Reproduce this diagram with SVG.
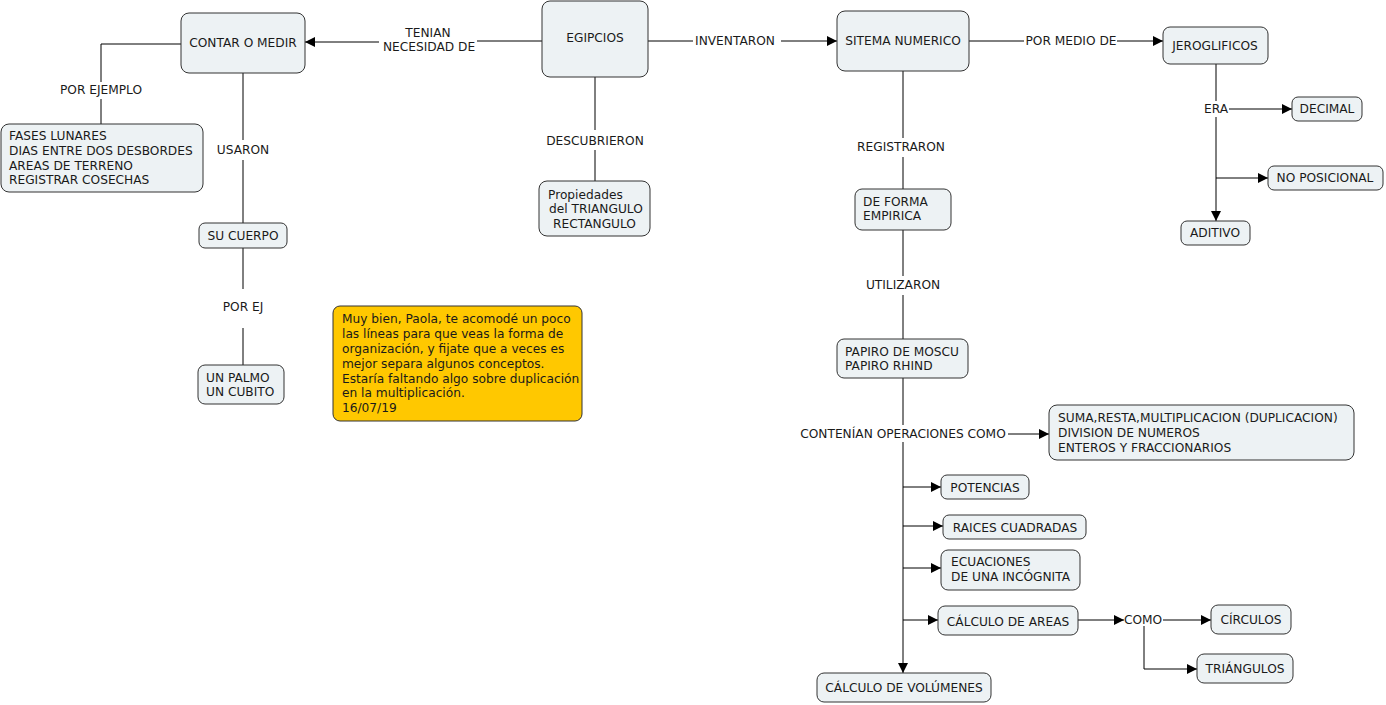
<svg xmlns="http://www.w3.org/2000/svg" width="1386" height="705" viewBox="0 0 1386 705">
<style>
text{font-family:"DejaVu Sans",Verdana,sans-serif;font-size:12.2px;fill:#1a1a1a}
.n{fill:#EDF2F4;stroke:#333;stroke-width:1}
.note{fill:#FFC800;stroke:#333;stroke-width:1}
.c{text-anchor:middle}
.l{fill:none;stroke:#000;stroke-width:1}
.a{marker-end:url(#ar)}
</style>
<defs>
<marker id="ar" markerWidth="10" markerHeight="10" refX="10" refY="5" orient="auto" markerUnits="userSpaceOnUse"><path d="M0,0 L10,5 L0,10 z" fill="#000"/></marker>
</defs>
<rect width="1386" height="705" fill="#fff"/>
<g id="connectors">
<path class="l" d="M542,41 H477"/>
<path class="l a" d="M379,42 H305"/>
<text class="c" x="428" y="37">TENIAN</text>
<text class="c" x="429" y="51">NECESIDAD DE</text>
<path class="l" d="M648,41 H693"/>
<path class="l a" d="M781,41 H837"/>
<text class="c" x="735" y="45">INVENTARON</text>
<path class="l" d="M969,41 H1024"/>
<path class="l a" d="M1117,41 H1163"/>
<text class="c" x="1071" y="45">POR MEDIO DE</text>
<path class="l" d="M1216,64 V101"/>
<text class="c" x="1216" y="113">ERA</text>
<path class="l a" d="M1229,109 H1292"/>
<path class="l a" d="M1216,117 V221"/>
<path class="l a" d="M1216,178 H1268"/>
<path class="l" d="M181,44 H101 V82"/>
<text class="c" x="101" y="94">POR EJEMPLO</text>
<path class="l" d="M101,99 V124"/>
<path class="l" d="M243,73 V140"/>
<text class="c" x="243" y="154">USARON</text>
<path class="l" d="M243,160 V223"/>
<path class="l" d="M243,248 V289"/>
<text class="c" x="243" y="311">POR EJ</text>
<path class="l" d="M243,328 V365"/>
<path class="l" d="M595,77 V130"/>
<text class="c" x="595" y="145">DESCUBRIERON</text>
<path class="l" d="M595,150 V181"/>
<path class="l" d="M903,71 V138"/>
<text class="c" x="901" y="151">REGISTRARON</text>
<path class="l" d="M903,157 V189"/>
<path class="l" d="M903,230 V276"/>
<text class="c" x="903" y="289">UTILIZARON</text>
<path class="l" d="M903,295 V339"/>
<path class="l" d="M903,378 V425"/>
<text class="c" x="903" y="438">CONTENÍAN OPERACIONES COMO</text>
<path class="l a" d="M1008,434 H1049"/>
<path class="l a" d="M903,442 V673"/>
<path class="l a" d="M903,487 H941"/>
<path class="l a" d="M903,526 H943"/>
<path class="l a" d="M903,568 H941"/>
<path class="l a" d="M903,620 H938"/>
<path class="l a" d="M1078,620 H1124"/>
<text class="c" x="1143" y="624">COMO</text>
<path class="l a" d="M1163,620 H1211"/>
<path class="l a" d="M1144,626 V669 H1197"/>
</g>
<g id="egipcios"><rect class="n" x="542" y="1" width="106" height="76" rx="8"/><text class="c" x="595" y="42">EGIPCIOS</text></g>
<g id="contar"><rect class="n" x="181" y="13" width="124" height="60" rx="8"/><text class="c" x="243" y="47">CONTAR O MEDIR</text></g>
<g id="sitema"><rect class="n" x="837" y="11" width="132" height="60" rx="8"/><text class="c" x="903" y="45">SITEMA NUMERICO</text></g>
<g id="jeroglificos"><rect class="n" x="1163" y="27" width="105" height="37" rx="7"/><text class="c" x="1215" y="50">JEROGLIFICOS</text></g>
<g id="decimal"><rect class="n" x="1292" y="97" width="70" height="24" rx="6"/><text class="c" x="1327" y="113">DECIMAL</text></g>
<g id="noposicional"><rect class="n" x="1268" y="166" width="115" height="24" rx="6"/><text class="c" x="1325" y="182">NO POSICIONAL</text></g>
<g id="aditivo"><rect class="n" x="1181" y="221" width="69" height="24" rx="6"/><text class="c" x="1215" y="237">ADITIVO</text></g>
<g id="fases"><rect class="n" x="1" y="124" width="202" height="68" rx="8"/>
<text x="9" y="140">FASES LUNARES</text><text x="9" y="155">DIAS ENTRE DOS DESBORDES</text><text x="9" y="170">AREAS DE TERRENO</text><text x="9" y="184">REGISTRAR COSECHAS</text></g>
<g id="sucuerpo"><rect class="n" x="199" y="223" width="88" height="25" rx="6"/><text class="c" x="243" y="240">SU CUERPO</text></g>
<g id="palmo"><rect class="n" x="198" y="365" width="86" height="39" rx="7"/><text x="206" y="382">UN PALMO</text><text x="206" y="396">UN CUBITO</text></g>
<g id="propiedades"><rect class="n" x="539" y="181" width="111" height="55" rx="8"/><text x="548" y="199">Propiedades</text><text x="549" y="213">del TRIANGULO</text><text x="553" y="228">RECTANGULO</text></g>
<g id="nota"><rect class="note" x="333" y="306" width="249" height="115" rx="7"/>
<text x="342" y="323">Muy bien, Paola, te acomodé un poco</text>
<text x="342" y="338">las líneas para que veas la forma de</text>
<text x="342" y="353">organización, y fijate que a veces es</text>
<text x="342" y="368">mejor separa algunos conceptos.</text>
<text x="342" y="383">Estaría faltando algo sobre duplicación</text>
<text x="342" y="397">en la multiplicación.</text>
<text x="342" y="412">16/07/19</text></g>
<g id="empirica"><rect class="n" x="855" y="189" width="96" height="41" rx="7"/><text x="863" y="206">DE FORMA</text><text x="863" y="220">EMPIRICA</text></g>
<g id="papiro"><rect class="n" x="837" y="339" width="131" height="39" rx="7"/><text x="845" y="356">PAPIRO DE MOSCU</text><text x="845" y="370">PAPIRO RHIND</text></g>
<g id="suma"><rect class="n" x="1049" y="405" width="305" height="55" rx="8"/><text x="1058" y="422">SUMA,RESTA,MULTIPLICACION (DUPLICACION)</text><text x="1058" y="437">DIVISION DE NUMEROS</text><text x="1058" y="452">ENTEROS Y FRACCIONARIOS</text></g>
<g id="potencias"><rect class="n" x="941" y="475" width="88" height="24" rx="6"/><text class="c" x="985" y="492">POTENCIAS</text></g>
<g id="raices"><rect class="n" x="943" y="515" width="143" height="24" rx="6"/><text class="c" x="1015" y="532">RAICES CUADRADAS</text></g>
<g id="ecuaciones"><rect class="n" x="941" y="550" width="139" height="40" rx="7"/><text x="951" y="566">ECUACIONES</text><text x="951" y="581">DE UNA INCÓGNITA</text></g>
<g id="areas"><rect class="n" x="938" y="606" width="140" height="29" rx="7"/><text class="c" x="1008" y="626">CÁLCULO DE AREAS</text></g>
<g id="circulos"><rect class="n" x="1211" y="605" width="80" height="29" rx="7"/><text class="c" x="1251" y="624">CÍRCULOS</text></g>
<g id="triangulos"><rect class="n" x="1197" y="654" width="96" height="29" rx="7"/><text class="c" x="1245" y="673">TRIÁNGULOS</text></g>
<g id="volumenes"><rect class="n" x="817" y="673" width="174" height="29" rx="7"/><text class="c" x="904" y="692">CÁLCULO DE VOLÚMENES</text></g>
</svg>
